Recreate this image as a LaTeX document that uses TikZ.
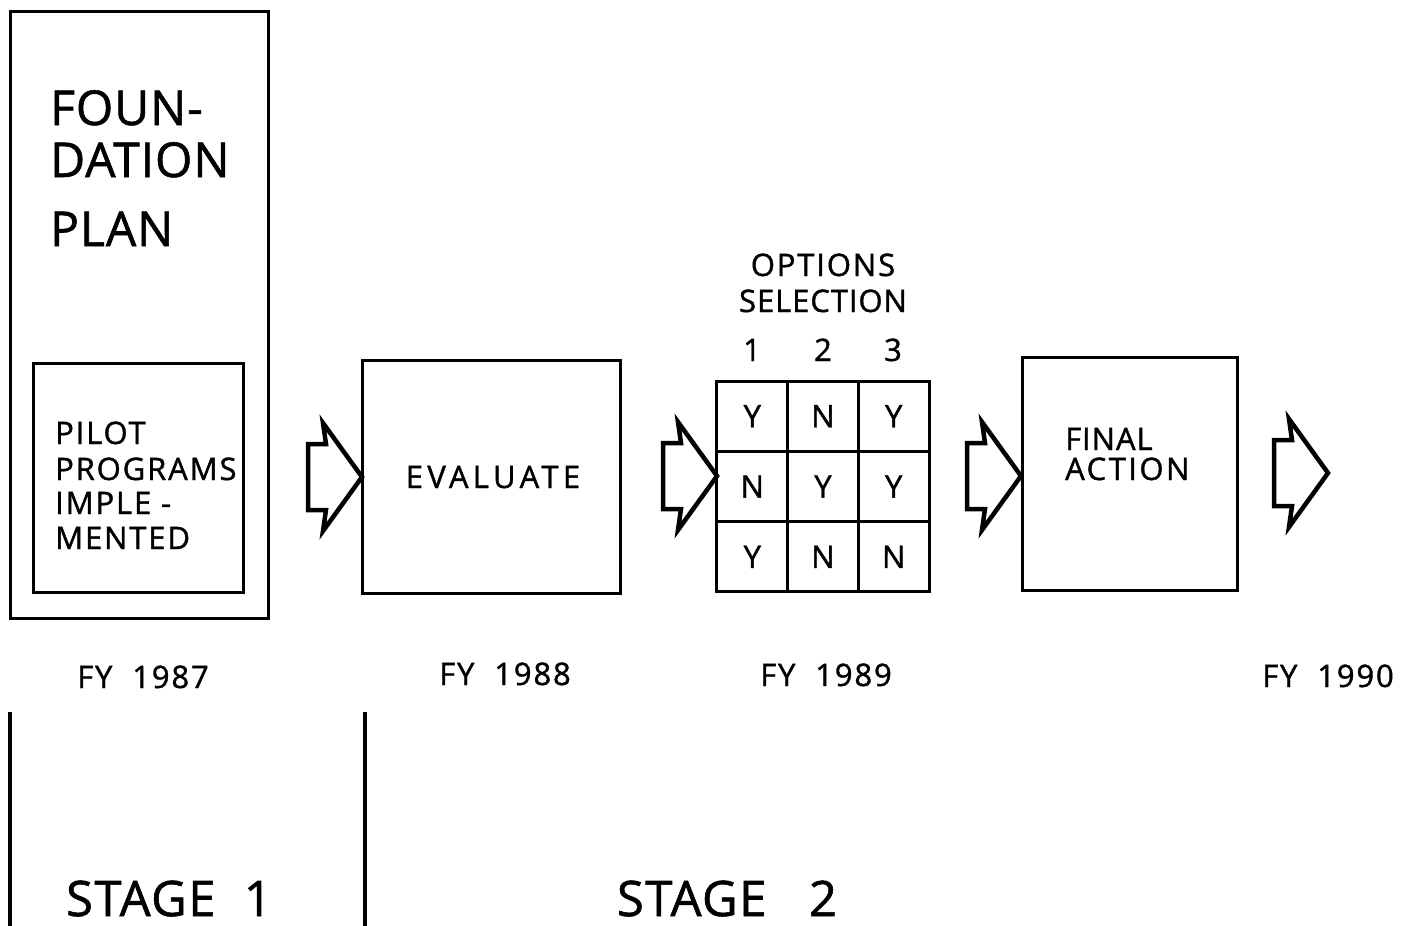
\documentclass[tikz,border=0pt]{standalone}
\usepackage{fontspec}
\setmainfont{Open Sans}[FakeBold=1.2]
\begin{document}
\begin{tikzpicture}[x=1pt,y=-1pt,
  box/.style={draw,line width=3pt,inner sep=0pt},
  cell/.style={draw,line width=3pt,inner sep=0pt,minimum width=70.7pt,minimum height=70.3pt,font=\fontsize{31}{31}\selectfont},
  big/.style={inner sep=0pt,font=\fontsize{48}{48}\selectfont\addfontfeature{LetterSpace=2}},
  mid/.style={inner sep=0pt,font=\fontsize{31}{31}\selectfont\addfontfeature{LetterSpace=6}},
  stagelbl/.style={inner sep=0pt,font=\fontsize{49}{49}\selectfont\addfontfeature{LetterSpace=3}},
  divider/.style={line width=4.5pt},
  blockarrow/.pic={\draw[line width=4.5pt,line join=miter]
     (-54,-33)--(-36,-33)--(-39,-54)--(0,0)--(-39,54)--(-36,33)--(-54,33)--cycle;}
]
\useasboundingbox (0,0) rectangle (1403,926);

% Foundation plan
\node[box,minimum width=258pt,minimum height=607pt] (found) at (139,314.5) {};
\node[big,anchor=base west] (t1) at (50,125) {FOUN-};
\node[big,anchor=base west] (t2) at (50,177) {DATION};
\node[big,anchor=base west] (t3) at (50,246) {PLAN};
\node[box,minimum width=210pt,minimum height=229pt] (pilot) at (138,477.5) {};
\node[mid,anchor=base west] (p1) at (55,444) {PILOT};
\node[mid,anchor=base west] (p2) at (55,480) {PROGRAMS};
\node[mid,anchor=base west] (p3) at (55,514) {IMPLE -};
\node[mid,anchor=base west] (p4) at (55,549) {MENTED};

% Evaluate
\node[box,minimum width=258pt,minimum height=233pt] (eval) at (491,476.5) {};
\node[mid,anchor=base,font=\fontsize{31}{31}\selectfont\addfontfeature{LetterSpace=14}] (evt) at (493,488) {EVALUATE};

% Options selection
\node[mid,anchor=base] (o1) at (823,276) {OPTIONS};
\node[mid,anchor=base,font=\fontsize{31}{31}\selectfont\addfontfeature{LetterSpace=3}] (o2) at (823,312) {SELECTION};
\node[mid,anchor=base] (n1) at (752,361) {1};
\node[mid,anchor=base] (n2) at (823,361) {2};
\node[mid,anchor=base] (n3) at (893,361) {3};
\node[cell] (c11) at (752.3,416.2) {Y};
\node[cell] (c12) at (823,416.2) {N};
\node[cell] (c13) at (893.7,416.2) {Y};
\node[cell] (c21) at (752.3,486.5) {N};
\node[cell] (c22) at (823,486.5) {Y};
\node[cell] (c23) at (893.7,486.5) {Y};
\node[cell] (c31) at (752.3,556.8) {Y};
\node[cell] (c32) at (823,556.8) {N};
\node[cell] (c33) at (893.7,556.8) {N};

% Final action
\node[box,minimum width=215pt,minimum height=233pt] (final) at (1129.5,473.5) {};
\node[mid,anchor=base west,font=\fontsize{31}{31}\selectfont\addfontfeature{LetterSpace=3}] (f1) at (1065,450) {FINAL};
\node[mid,anchor=base west,font=\fontsize{31}{31}\selectfont\addfontfeature{LetterSpace=8}] (f2) at (1065,480) {ACTION};

% block arrows
\coordinate (a1) at (362,477);
\coordinate (a2) at (717,476);
\coordinate (a3) at (1021,476);
\coordinate (a4) at (1328,473);
\pic at (a1) {blockarrow};
\pic at (a2) {blockarrow};
\pic at (a3) {blockarrow};
\pic at (a4) {blockarrow};

% years
\node[mid,anchor=base] (y1) at (143,688) {FY\ \ 1987};
\node[mid,anchor=base] (y2) at (505,685) {FY\ \ 1988};
\node[mid,anchor=base] (y3) at (826,686) {FY\ \ 1989};
\node[mid,anchor=base] (y4) at (1328,687) {FY\ \ 1990};

% stages
\coordinate (d1a) at (10,712); \coordinate (d1b) at (10,926);
\coordinate (d2a) at (365,712); \coordinate (d2b) at (365,926);
\draw[divider] (d1a) -- (d1b);
\draw[divider] (d2a) -- (d2b);
\node[stagelbl,anchor=base] (s1) at (169,916) {STAGE\ \ 1};
\node[stagelbl,anchor=base] (s2) at (727,916) {STAGE\ \ \ 2};
\end{tikzpicture}
\end{document}
